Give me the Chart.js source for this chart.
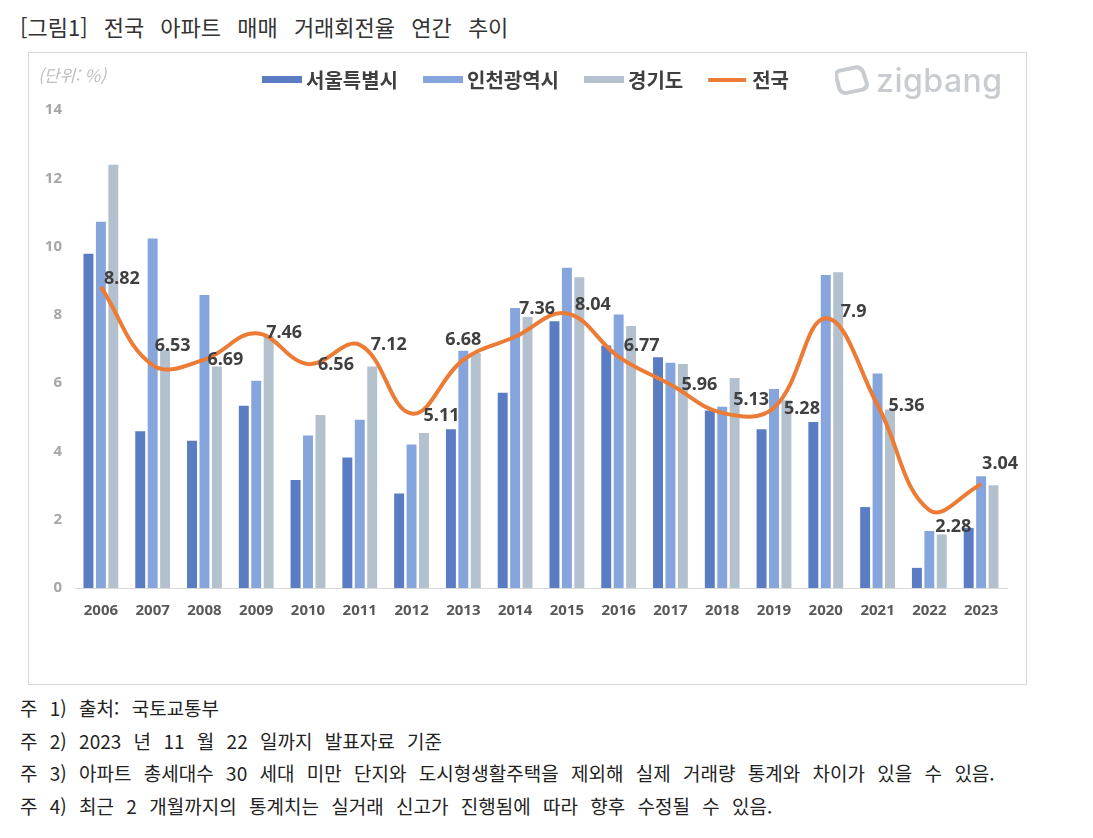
<!DOCTYPE html>
<html lang="ko">
<head>
<meta charset="utf-8">
<title>전국 아파트 매매 거래회전율 연간 추이</title>
<script src="https://cdn.jsdelivr.net/npm/chart.js@4/dist/chart.umd.min.js"></script>
<style>
	body { margin: 0; background: #fff; font-family: "Noto Sans CJK KR", "Noto Sans", sans-serif; }
	#title { position: absolute; left: 20px; top: 10px; font-size: 22px; color: #333; word-spacing: 10px; white-space: nowrap; }
	#box { position: absolute; left: 28px; top: 52px; width: 999px; height: 633px; border: 1px solid #d9d9d9; box-sizing: border-box; }
	#unit { position: absolute; left: 38px; top: 62px; font-size: 17px; font-style: italic; color: #bfbfbf; }
	#logo { position: absolute; left: 835px; top: 60px; height: 40px; display: flex; align-items: center; color: #c8ccd1; font-family: Inter, Lato, sans-serif; font-weight: 500; font-size: 32px; letter-spacing: 0.5px; }
	#logo svg { margin-right: 7px; }
	.note { position: absolute; left: 20px; font-size: 19px; color: #222; white-space: nowrap; word-spacing: 7px; }
</style>
</head>
<body>
<div id="title">[그림1] 전국 아파트 매매 거래회전율 연간 추이</div>
<div id="box"><canvas id="turnoverChart"></canvas></div>
<div id="unit">(단위: %)</div>
<div id="logo">
	<svg width="34" height="30" viewBox="0 0 34 30"><path d="M6 4 L22 3 Q27 3 29 8 L31 19 Q32 25 26 26 L10 27 Q4 27 3 21 L2 10 Q2 4 6 4 Z" fill="none" stroke="#c8ccd1" stroke-width="4" stroke-linejoin="round" transform="rotate(-8 17 15)"/></svg>zigbang
</div>
<div class="note" style="top:694px">주 1) 출처: 국토교통부</div>
<div class="note" style="top:727px">주 2) 2023 년 11 월 22 일까지 발표자료 기준</div>
<div class="note" style="top:759px">주 3) 아파트 총세대수 30 세대 미만 단지와 도시형생활주택을 제외해 실제 거래량 통계와 차이가 있을 수 있음.</div>
<div class="note" style="top:792px">주 4) 최근 2 개월까지의 통계치는 실거래 신고가 진행됨에 따라 향후 수정될 수 있음.</div>

<script>
	const years = ['2006', '2007', '2008', '2009', '2010', '2011', '2012', '2013', '2014',
		'2015', '2016', '2017', '2018', '2019', '2020', '2021', '2022', '2023'];
	const seoul = [9.79, 4.59, 4.31, 5.34, 3.16, 3.82, 2.77, 4.65, 5.72, 7.81, 7.10, 6.76, 5.20, 4.65, 4.86, 2.37, 0.59, 1.76];
	const incheon = [10.73, 10.24, 8.58, 6.07, 4.47, 4.93, 4.20, 6.95, 8.20, 9.38, 8.01, 6.60, 5.31, 5.83, 9.17, 6.28, 1.67, 3.27];
	const gyeonggi = [12.40, 6.96, 6.49, 7.38, 5.07, 6.49, 4.54, 6.88, 7.94, 9.10, 7.67, 6.56, 6.15, 5.50, 9.25, 5.23, 1.57, 3.01];
	const national = [8.82, 6.53, 6.69, 7.46, 6.56, 7.12, 5.11, 6.68, 7.36, 8.04, 6.77, 5.96, 5.13, 5.28, 7.9, 5.36, 2.28, 3.04];
	const seriesNames = ['서울특별시', '인천광역시', '경기도', '전국'];

	// label nudges (px) for the 전국 values
	const labelDx = [3, 2, 3, 10, 10, 11, 12, -18, 4, 8, 5, 11, 11, 10, 15, 11, 6, 1];
	const labelDy = [-9, -20, -1, -1, 0, -1, 1, -21, -29, -10, -12, -1, -14, 0, -7, 0, 16, -21];

	const valueLabels = {
		id: 'valueLabels',
		afterDatasetsDraw(chart) {
			const meta = chart.getDatasetMeta(3);
			const ctx = chart.ctx;
			ctx.save();
			ctx.font = 'bold 18px "Noto Sans", sans-serif';
			ctx.textBaseline = 'middle';
			ctx.textAlign = 'left';
			ctx.fillStyle = '#404040';
			meta.data.forEach(function(pt, i) {
				ctx.fillText(String(national[i]), pt.x + labelDx[i], pt.y + labelDy[i] + 1);
			});
			ctx.restore();
		}
	};

	const topLegend = {
		id: 'topLegend',
		afterDraw(chart) {
			const ctx = chart.ctx;
			let x = 233;
			const cy = 27;
			ctx.save();
			ctx.font = 'bold 20px "Noto Sans CJK KR", sans-serif';
			ctx.textBaseline = 'middle';
			chart.data.datasets.forEach(function(ds) {
				if (ds.type === 'line') {
					ctx.fillStyle = ds.borderColor;
					ctx.fillRect(x, cy - 2, 38, 4);
				} else {
					ctx.fillStyle = ds.backgroundColor;
					ctx.fillRect(x, cy - 4, 40, 7);
				}
				x += 44;
				ctx.fillStyle = '#404040';
				ctx.fillText(ds.label, x, cy);
				x += ctx.measureText(ds.label).width + 25;
			});
			ctx.restore();
		}
	};

	const ctx = document.getElementById('turnoverChart').getContext('2d');
	new Chart(ctx, {
		data: {
			labels: years,
			datasets: [{
				type: 'bar',
				label: seriesNames[0],
				data: seoul,
				backgroundColor: '#5a7cc2',
				order: 1
			}, {
				type: 'bar',
				label: seriesNames[1],
				data: incheon,
				backgroundColor: '#86a5dc',
				order: 1
			}, {
				type: 'bar',
				label: seriesNames[2],
				data: gyeonggi,
				backgroundColor: '#b3c0cd',
				order: 1
			}, {
				type: 'line',
				label: seriesNames[3],
				data: national,
				borderColor: '#ec7b35',
				borderWidth: 4,
				tension: 0.4,
				pointRadius: 0,
				order: 0
			}]
		},
		options: {
			responsive: true,
			maintainAspectRatio: false,
			animation: false,
			datasets: {
				bar: {
					categoryPercentage: 0.72,
					barPercentage: 0.8
				}
			},
			layout: {
				padding: { top: 57, right: 19, bottom: 56, left: 0 }
			},
			plugins: {
				legend: { display: false },
				tooltip: { enabled: false }
			},
			scales: {
				x: {
					grid: { display: false, drawTicks: false },
					border: { color: '#d9d9d9' },
					ticks: {
						padding: 14,
						color: '#595959',
						font: { size: 15, weight: 'bold', family: '"Noto Sans", sans-serif' }
					},
					afterFit: function(scale) { scale.height = 40; }
				},
				y: {
					min: 0,
					max: 14,
					grid: { display: false, drawTicks: false },
					border: { display: false },
					ticks: {
						stepSize: 2,
						padding: 13,
						color: '#a6a6a6',
						font: { size: 15, weight: 'bold', family: '"Noto Sans", sans-serif' }
					},
					afterFit: function(scale) { scale.width = 46; }
				}
			}
		},
		plugins: [valueLabels, topLegend]
	});
</script>
</body>
</html>
